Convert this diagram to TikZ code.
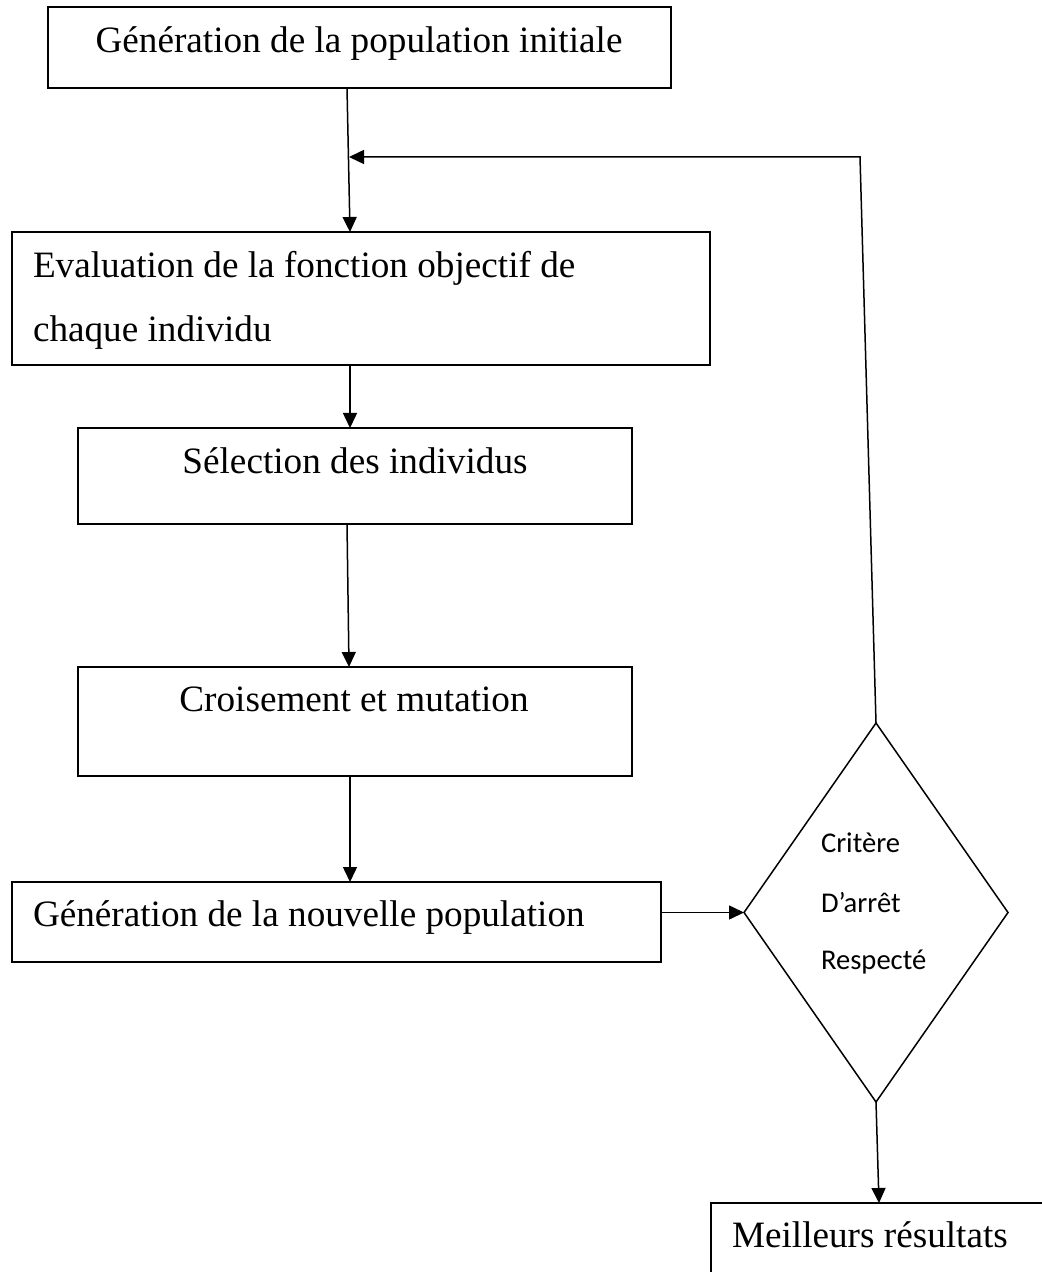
\documentclass[tikz,border=0pt]{standalone}
\usepackage{fontspec}
\setmainfont{Liberation Serif}
\newfontfamily\calib{Carlito}
\usetikzlibrary{arrows.meta,shapes.geometric}
\begin{document}
\begin{tikzpicture}[x=0.5pt,y=-0.5pt,
  every node/.style={outer sep=0pt},
  box/.style={draw=black, line width=0.75pt, inner sep=0pt, rectangle},
  lbl/.style={inner sep=0pt, font=\fontsize{18.6pt}{22pt}\selectfont},
  dlbl/.style={inner sep=0pt, anchor=base west, font=\calib\fontsize{14.3pt}{17pt}\selectfont},
  link/.style={line width=0.75pt, -{Triangle[length=7.5pt,width=7pt]}},
  plain/.style={line width=0.75pt}]
\clip (0,0) rectangle (1042,1272);
\fill[white] (0,0) rectangle (1042,1272);
% boxes
\node[box, minimum width=311.5pt, minimum height=40.5pt] (b1) at (359.5,47.5) {};
\node[box, minimum width=349pt, minimum height=66.5pt] (b2) at (361,298.5) {};
\node[box, minimum width=277pt, minimum height=48pt] (b3) at (355,476) {};
\node[box, minimum width=277pt, minimum height=54.5pt] (b4) at (355,721.5) {};
\node[box, minimum width=324.5pt, minimum height=40pt] (b5) at (336.5,922) {};
\node[box, anchor=north west, minimum width=200pt, minimum height=75pt] (b6) at (711,1203) {};
\node[draw=black, line width=0.75pt, shape=diamond, inner sep=0pt,
      minimum width=132pt, minimum height=189.5pt] (d) at (876,912.5) {};
% texts
\node[lbl, anchor=base] (t1) at (359,53) {Génération de la population initiale};
\node[lbl, anchor=base west] (t2a) at (33,278) {Evaluation de la fonction objectif de};
\node[lbl, anchor=base west] (t2b) at (33,342) {chaque individu};
\node[lbl, anchor=base] (t3) at (355,473) {Sélection des individus};
\node[lbl, anchor=base] (t4) at (354,711) {Croisement et mutation};
\node[lbl, anchor=base west] (t5) at (33,926) {Génération de la nouvelle population};
\node[lbl, anchor=base west] (t6) at (732,1247) {Meilleurs résultats};
\node[dlbl] (dt1) at (821,852) {Critère};
\node[dlbl] (dt2) at (821,912) {D’arrêt};
\node[dlbl] (dt3) at (821,969) {Respecté};
% connectors
\coordinate (fb) at (860,157);
\coordinate (merge) at (349,157);
\draw[link] (b1.south -| 347,0) -- (b2.north -| 350,0);
\draw[link] (b2.south -| 350,0) -- (b3.north -| 350,0);
\draw[link] (b3.south -| 347,0) -- (b4.north -| 349,0);
\draw[link] (b4.south -| 350,0) -- (b5.north -| 350,0);
\draw[link] (b5.east |- d.west) -- (d.west);
\draw[link] (d.south) -- (b6.north -| 879,0);
\draw[link] (d.north) -- (fb) -- (merge);
\end{tikzpicture}
\end{document}
